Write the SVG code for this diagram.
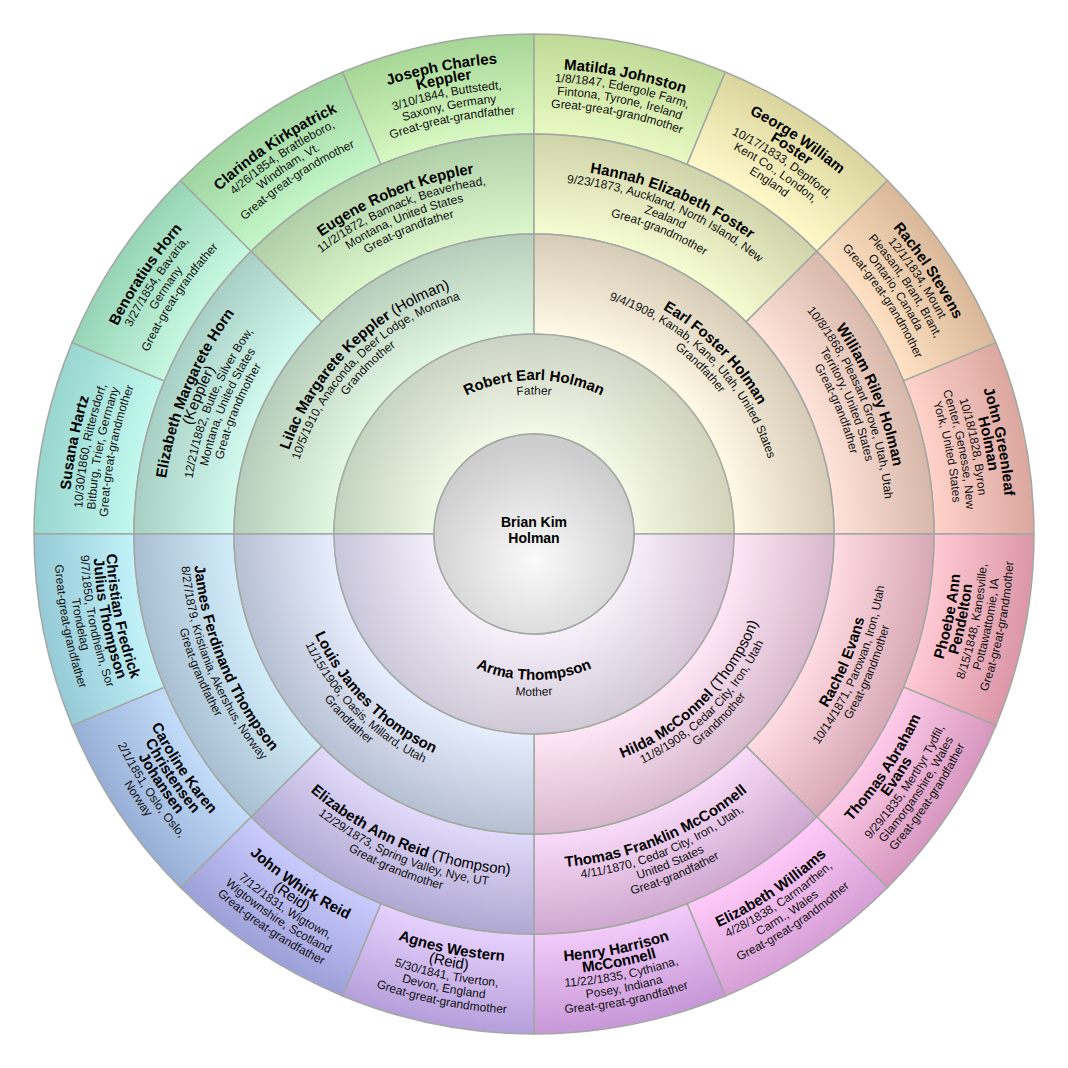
<svg xmlns="http://www.w3.org/2000/svg" width="1068" height="1068" viewBox="0 0 1068 1068">
<style>
text { font-family: "Liberation Sans", Arial, Helvetica, sans-serif; text-anchor: middle; fill: #000; }
.n { font-size: 15px; font-weight: bold; }
.m { font-size: 15px; font-weight: normal; }
.r { font-weight: normal; }
.d { font-size: 12px; fill: #111; }
.c { font-size: 14px; font-weight: bold; }
.seg { stroke: #a3a8a3; stroke-width: 1.5; }
</style>
<defs>
<radialGradient id="gCenter" gradientUnits="userSpaceOnUse" cx="534" cy="560" r="115"><stop offset="0" stop-color="#fafafa"/><stop offset="1" stop-color="#cdcdcd"/></radialGradient>
<radialGradient id="gFather" gradientUnits="userSpaceOnUse" cx="534" cy="534" r="200"><stop offset="0.5" stop-color="#f3f9e6"/><stop offset="1" stop-color="#c9d1c2"/></radialGradient>
<radialGradient id="gMother" gradientUnits="userSpaceOnUse" cx="534" cy="534" r="200"><stop offset="0.5" stop-color="#f7f0fb"/><stop offset="1" stop-color="#cfc7d5"/></radialGradient>
<linearGradient id="hFather" gradientUnits="userSpaceOnUse" x1="334" y1="0" x2="734" y2="0"><stop offset="0" stop-color="#a8e0b0" stop-opacity="0.25"/><stop offset="0.5" stop-color="#ffffff" stop-opacity="0"/><stop offset="1" stop-color="#f0dca0" stop-opacity="0.25"/></linearGradient>
<linearGradient id="hMother" gradientUnits="userSpaceOnUse" x1="334" y1="0" x2="734" y2="0"><stop offset="0" stop-color="#b0c0f0" stop-opacity="0.22"/><stop offset="0.5" stop-color="#ffffff" stop-opacity="0"/><stop offset="1" stop-color="#f0b0d8" stop-opacity="0.22"/></linearGradient>
<radialGradient id="gLilac" gradientUnits="userSpaceOnUse" cx="534" cy="534" r="300"><stop offset="0.667" stop-color="#e2f7e2"/><stop offset="1" stop-color="#b6cdbb"/></radialGradient>
<radialGradient id="gEarl" gradientUnits="userSpaceOnUse" cx="534" cy="534" r="300"><stop offset="0.667" stop-color="#fff9e6"/><stop offset="1" stop-color="#d6cbb6"/></radialGradient>
<radialGradient id="gHilda" gradientUnits="userSpaceOnUse" cx="534" cy="534" r="300"><stop offset="0.667" stop-color="#ffe6f7"/><stop offset="1" stop-color="#d7b7cb"/></radialGradient>
<radialGradient id="gLouis" gradientUnits="userSpaceOnUse" cx="534" cy="534" r="300"><stop offset="0.667" stop-color="#e6edfd"/><stop offset="1" stop-color="#b7bfd3"/></radialGradient>
<radialGradient id="gEMH" gradientUnits="userSpaceOnUse" cx="534" cy="534" r="400"><stop offset="0.75" stop-color="#d2f9ee"/><stop offset="1" stop-color="#a7cfc3"/></radialGradient>
<radialGradient id="gEugene" gradientUnits="userSpaceOnUse" cx="534" cy="534" r="400"><stop offset="0.75" stop-color="#dbf6cb"/><stop offset="1" stop-color="#afcfa8"/></radialGradient>
<radialGradient id="gHannah" gradientUnits="userSpaceOnUse" cx="534" cy="534" r="400"><stop offset="0.75" stop-color="#f6fcd2"/><stop offset="1" stop-color="#cfd3a9"/></radialGradient>
<radialGradient id="gWilliam" gradientUnits="userSpaceOnUse" cx="534" cy="534" r="400"><stop offset="0.75" stop-color="#ffe2d9"/><stop offset="1" stop-color="#d7b8aa"/></radialGradient>
<radialGradient id="gRachelE" gradientUnits="userSpaceOnUse" cx="534" cy="534" r="400"><stop offset="0.75" stop-color="#ffdbe3"/><stop offset="1" stop-color="#d7a9b6"/></radialGradient>
<radialGradient id="gThomasF" gradientUnits="userSpaceOnUse" cx="534" cy="534" r="400"><stop offset="0.75" stop-color="#f9dbf9"/><stop offset="1" stop-color="#cfa8d0"/></radialGradient>
<radialGradient id="gEAR" gradientUnits="userSpaceOnUse" cx="534" cy="534" r="400"><stop offset="0.75" stop-color="#e2dafa"/><stop offset="1" stop-color="#afa8d2"/></radialGradient>
<radialGradient id="gJames" gradientUnits="userSpaceOnUse" cx="534" cy="534" r="400"><stop offset="0.75" stop-color="#d3ecfa"/><stop offset="1" stop-color="#a7bfd1"/></radialGradient>
<radialGradient id="g1" gradientUnits="userSpaceOnUse" cx="534" cy="534" r="500"><stop offset="0.8" stop-color="#c2f8ee"/><stop offset="1" stop-color="#98d6cf"/></radialGradient>
<radialGradient id="g2" gradientUnits="userSpaceOnUse" cx="534" cy="534" r="500"><stop offset="0.8" stop-color="#c6f8e0"/><stop offset="1" stop-color="#96d4b5"/></radialGradient>
<radialGradient id="g3" gradientUnits="userSpaceOnUse" cx="534" cy="534" r="500"><stop offset="0.8" stop-color="#c4f6c8"/><stop offset="1" stop-color="#9ed49e"/></radialGradient>
<radialGradient id="g4" gradientUnits="userSpaceOnUse" cx="534" cy="534" r="500"><stop offset="0.8" stop-color="#d8f8c2"/><stop offset="1" stop-color="#a6d696"/></radialGradient>
<radialGradient id="g5" gradientUnits="userSpaceOnUse" cx="534" cy="534" r="500"><stop offset="0.8" stop-color="#e8f9c2"/><stop offset="1" stop-color="#bfd996"/></radialGradient>
<radialGradient id="g6" gradientUnits="userSpaceOnUse" cx="534" cy="534" r="500"><stop offset="0.8" stop-color="#fff9ca"/><stop offset="1" stop-color="#dad59e"/></radialGradient>
<radialGradient id="g7" gradientUnits="userSpaceOnUse" cx="534" cy="534" r="500"><stop offset="0.8" stop-color="#ffe2c4"/><stop offset="1" stop-color="#d8b898"/></radialGradient>
<radialGradient id="g8" gradientUnits="userSpaceOnUse" cx="534" cy="534" r="500"><stop offset="0.8" stop-color="#ffd2ca"/><stop offset="1" stop-color="#dba79f"/></radialGradient>
<radialGradient id="g9" gradientUnits="userSpaceOnUse" cx="534" cy="534" r="500"><stop offset="0.8" stop-color="#ffcad3"/><stop offset="1" stop-color="#db97a8"/></radialGradient>
<radialGradient id="g10" gradientUnits="userSpaceOnUse" cx="534" cy="534" r="500"><stop offset="0.8" stop-color="#ffcbe9"/><stop offset="1" stop-color="#d797bf"/></radialGradient>
<radialGradient id="g11" gradientUnits="userSpaceOnUse" cx="534" cy="534" r="500"><stop offset="0.8" stop-color="#ffcaf9"/><stop offset="1" stop-color="#d69fd6"/></radialGradient>
<radialGradient id="g12" gradientUnits="userSpaceOnUse" cx="534" cy="534" r="500"><stop offset="0.8" stop-color="#f2cbfa"/><stop offset="1" stop-color="#c797d7"/></radialGradient>
<radialGradient id="g13" gradientUnits="userSpaceOnUse" cx="534" cy="534" r="500"><stop offset="0.8" stop-color="#e6d1fd"/><stop offset="1" stop-color="#b59fdb"/></radialGradient>
<radialGradient id="g14" gradientUnits="userSpaceOnUse" cx="534" cy="534" r="500"><stop offset="0.8" stop-color="#cacbfd"/><stop offset="1" stop-color="#9d9fd8"/></radialGradient>
<radialGradient id="g15" gradientUnits="userSpaceOnUse" cx="534" cy="534" r="500"><stop offset="0.8" stop-color="#c3dcf9"/><stop offset="1" stop-color="#97afd6"/></radialGradient>
<radialGradient id="g16" gradientUnits="userSpaceOnUse" cx="534" cy="534" r="500"><stop offset="0.8" stop-color="#c2f1f9"/><stop offset="1" stop-color="#95cad6"/></radialGradient>

<path id="t154" d="M 380 534 A 154 154 0 0 1 688 534"/>
<path id="t139_5" d="M 394.5 534 A 139.5 139.5 0 0 1 673.5 534"/>
<path id="b146" d="M 388 534 A 146 146 0 0 0 680 534"/>
<path id="b162" d="M 372 534 A 162 162 0 0 0 696 534"/>
<path id="t259" d="M 275 534 A 259 259 0 0 1 793 534"/>
<path id="t246" d="M 288 534 A 246 246 0 0 1 780 534"/>
<path id="t233" d="M 301 534 A 233 233 0 0 1 767 534"/>
<path id="b241" d="M 293 534 A 241 241 0 0 0 775 534"/>
<path id="b254" d="M 280 534 A 254 254 0 0 0 788 534"/>
<path id="b267" d="M 267 534 A 267 267 0 0 0 801 534"/>
<path id="t372" d="M 162 534 A 372 372 0 0 1 906 534"/>
<path id="t359" d="M 175 534 A 359 359 0 0 1 893 534"/>
<path id="t346" d="M 188 534 A 346 346 0 0 1 880 534"/>
<path id="t333" d="M 201 534 A 333 333 0 0 1 867 534"/>
<path id="t320" d="M 214 534 A 320 320 0 0 1 854 534"/>
<path id="t365_5" d="M 168.5 534 A 365.5 365.5 0 0 1 899.5 534"/>
<path id="t352_5" d="M 181.5 534 A 352.5 352.5 0 0 1 886.5 534"/>
<path id="t339_5" d="M 194.5 534 A 339.5 339.5 0 0 1 873.5 534"/>
<path id="t326_5" d="M 207.5 534 A 326.5 326.5 0 0 1 860.5 534"/>
<path id="b341" d="M 193 534 A 341 341 0 0 0 875 534"/>
<path id="b354" d="M 180 534 A 354 354 0 0 0 888 534"/>
<path id="b367" d="M 167 534 A 367 367 0 0 0 901 534"/>
<path id="b334_5" d="M 199.5 534 A 334.5 334.5 0 0 0 868.5 534"/>
<path id="b347_5" d="M 186.5 534 A 347.5 347.5 0 0 0 881.5 534"/>
<path id="b360_5" d="M 173.5 534 A 360.5 360.5 0 0 0 894.5 534"/>
<path id="b373_5" d="M 160.5 534 A 373.5 373.5 0 0 0 907.5 534"/>
<path id="t465_5" d="M 68.5 534 A 465.5 465.5 0 0 1 999.5 534"/>
<path id="t452_5" d="M 81.5 534 A 452.5 452.5 0 0 1 986.5 534"/>
<path id="t439_5" d="M 94.5 534 A 439.5 439.5 0 0 1 973.5 534"/>
<path id="t426_5" d="M 107.5 534 A 426.5 426.5 0 0 1 960.5 534"/>
<path id="t472" d="M 62 534 A 472 472 0 0 1 1006 534"/>
<path id="t459" d="M 75 534 A 459 459 0 0 1 993 534"/>
<path id="t446" d="M 88 534 A 446 446 0 0 1 980 534"/>
<path id="t433" d="M 101 534 A 433 433 0 0 1 967 534"/>
<path id="t420" d="M 114 534 A 420 420 0 0 1 954 534"/>
<path id="b434_5" d="M 99.5 534 A 434.5 434.5 0 0 0 968.5 534"/>
<path id="b447_5" d="M 86.5 534 A 447.5 447.5 0 0 0 981.5 534"/>
<path id="b460_5" d="M 73.5 534 A 460.5 460.5 0 0 0 994.5 534"/>
<path id="b473_5" d="M 60.5 534 A 473.5 473.5 0 0 0 1007.5 534"/>
<path id="b428" d="M 106 534 A 428 428 0 0 0 962 534"/>
<path id="b441" d="M 93 534 A 441 441 0 0 0 975 534"/>
<path id="b454" d="M 80 534 A 454 454 0 0 0 988 534"/>
<path id="b467" d="M 67 534 A 467 467 0 0 0 1001 534"/>
<path id="b480" d="M 54 534 A 480 480 0 0 0 1014 534"/>
</defs>

<rect width="1068" height="1068" fill="#ffffff"/>

<g id="nodes">
<!-- Ring 4 -->
<g id="n-susana-hartz">
<path class="seg" fill="url(#g1)" d="M 34 534 A 500 500 0 0 1 72.06 342.66 L 164.45 380.93 A 400 400 0 0 0 134 534 Z"/>
<g transform="rotate(-78.75 534 534)">
<text class="n"><textPath href="#t465_5" startOffset="50%">Susana Hartz</textPath></text>
<text class="d"><textPath href="#t452_5" startOffset="50%">10/30/1860, Rittersdorf,</textPath></text>
<text class="d"><textPath href="#t439_5" startOffset="50%">Bitburg, Trier, Germany</textPath></text>
<text class="d"><textPath href="#t426_5" startOffset="50%">Great-great-grandmother</textPath></text>
</g></g>
<g id="n-benoratius-horn">
<path class="seg" fill="url(#g2)" d="M 72.06 342.66 A 500 500 0 0 1 180.45 180.45 L 251.16 251.16 A 400 400 0 0 0 164.45 380.93 Z"/>
<g transform="rotate(-56.25 534 534)">
<text class="n"><textPath href="#t465_5" startOffset="50%">Benoratius Horn</textPath></text>
<text class="d"><textPath href="#t452_5" startOffset="50%">3/27/1854, Bavaria,</textPath></text>
<text class="d"><textPath href="#t439_5" startOffset="50%">Germany</textPath></text>
<text class="d"><textPath href="#t426_5" startOffset="50%">Great-great-grandfather</textPath></text>
</g></g>
<g id="n-clarinda-kirkpatrick">
<path class="seg" fill="url(#g3)" d="M 180.45 180.45 A 500 500 0 0 1 342.66 72.06 L 380.93 164.45 A 400 400 0 0 0 251.16 251.16 Z"/>
<g transform="rotate(-33.75 534 534)">
<text class="n"><textPath href="#t465_5" startOffset="50%">Clarinda Kirkpatrick</textPath></text>
<text class="d"><textPath href="#t452_5" startOffset="50%">4/26/1854, Brattleboro,</textPath></text>
<text class="d"><textPath href="#t439_5" startOffset="50%">Windham, Vt.</textPath></text>
<text class="d"><textPath href="#t426_5" startOffset="50%">Great-great-grandmother</textPath></text>
</g></g>
<g id="n-joseph-charles-keppler">
<path class="seg" fill="url(#g4)" d="M 342.66 72.06 A 500 500 0 0 1 534 34 L 534 134 A 400 400 0 0 0 380.93 164.45 Z"/>
<g transform="rotate(-11.25 534 534)">
<text class="n"><textPath href="#t472" startOffset="50%">Joseph Charles</textPath></text>
<text class="n"><textPath href="#t459" startOffset="50%">Keppler</textPath></text>
<text class="d"><textPath href="#t446" startOffset="50%">3/10/1844, Buttstedt,</textPath></text>
<text class="d"><textPath href="#t433" startOffset="50%">Saxony, Germany</textPath></text>
<text class="d"><textPath href="#t420" startOffset="50%">Great-great-grandfather</textPath></text>
</g></g>
<g id="n-matilda-johnston">
<path class="seg" fill="url(#g5)" d="M 534 34 A 500 500 0 0 1 725.34 72.06 L 687.07 164.45 A 400 400 0 0 0 534 134 Z"/>
<g transform="rotate(11.25 534 534)">
<text class="n"><textPath href="#t465_5" startOffset="50%">Matilda Johnston</textPath></text>
<text class="d"><textPath href="#t452_5" startOffset="50%">1/8/1847, Edergole Farm,</textPath></text>
<text class="d"><textPath href="#t439_5" startOffset="50%">Fintona, Tyrone, Ireland</textPath></text>
<text class="d"><textPath href="#t426_5" startOffset="50%">Great-great-grandmother</textPath></text>
</g></g>
<g id="n-george-william-foster">
<path class="seg" fill="url(#g6)" d="M 725.34 72.06 A 500 500 0 0 1 887.55 180.45 L 816.84 251.16 A 400 400 0 0 0 687.07 164.45 Z"/>
<g transform="rotate(33.75 534 534)">
<text class="n"><textPath href="#t472" startOffset="50%">George William</textPath></text>
<text class="n"><textPath href="#t459" startOffset="50%">Foster</textPath></text>
<text class="d"><textPath href="#t446" startOffset="50%">10/17/1833, Deptford,</textPath></text>
<text class="d"><textPath href="#t433" startOffset="50%">Kent Co., London,</textPath></text>
<text class="d"><textPath href="#t420" startOffset="50%">England</textPath></text>
</g></g>
<g id="n-rachel-stevens">
<path class="seg" fill="url(#g7)" d="M 887.55 180.45 A 500 500 0 0 1 995.94 342.66 L 903.55 380.93 A 400 400 0 0 0 816.84 251.16 Z"/>
<g transform="rotate(56.25 534 534)">
<text class="n"><textPath href="#t472" startOffset="50%">Rachel Stevens</textPath></text>
<text class="d"><textPath href="#t459" startOffset="50%">12/1/1834, Mount</textPath></text>
<text class="d"><textPath href="#t446" startOffset="50%">Pleasant, Brant, Brant,</textPath></text>
<text class="d"><textPath href="#t433" startOffset="50%">Ontario, Canada</textPath></text>
<text class="d"><textPath href="#t420" startOffset="50%">Great-great-grandmother</textPath></text>
</g></g>
<g id="n-john-greenleaf-holman">
<path class="seg" fill="url(#g8)" d="M 995.94 342.66 A 500 500 0 0 1 1034 534 L 934 534 A 400 400 0 0 0 903.55 380.93 Z"/>
<g transform="rotate(78.75 534 534)">
<text class="n"><textPath href="#t472" startOffset="50%">John Greenleaf</textPath></text>
<text class="n"><textPath href="#t459" startOffset="50%">Holman</textPath></text>
<text class="d"><textPath href="#t446" startOffset="50%">10/18/1828, Byron</textPath></text>
<text class="d"><textPath href="#t433" startOffset="50%">Center, Genesse, New</textPath></text>
<text class="d"><textPath href="#t420" startOffset="50%">York, United States</textPath></text>
</g></g>
<g id="n-phoebe-ann-pendelton">
<path class="seg" fill="url(#g9)" d="M 1034 534 A 500 500 0 0 1 995.94 725.34 L 903.55 687.07 A 400 400 0 0 0 934 534 Z"/>
<g transform="rotate(-78.75 534 534)">
<text class="n"><textPath href="#b428" startOffset="50%">Phoebe Ann</textPath></text>
<text class="n"><textPath href="#b441" startOffset="50%">Pendelton</textPath></text>
<text class="d"><textPath href="#b454" startOffset="50%">8/15/1848, Kanesville,</textPath></text>
<text class="d"><textPath href="#b467" startOffset="50%">Pottawattomie, IA</textPath></text>
<text class="d"><textPath href="#b480" startOffset="50%">Great-great-grandmother</textPath></text>
</g></g>
<g id="n-thomas-abraham-evans">
<path class="seg" fill="url(#g10)" d="M 995.94 725.34 A 500 500 0 0 1 887.55 887.55 L 816.84 816.84 A 400 400 0 0 0 903.55 687.07 Z"/>
<g transform="rotate(-56.25 534 534)">
<text class="n"><textPath href="#b428" startOffset="50%">Thomas Abraham</textPath></text>
<text class="n"><textPath href="#b441" startOffset="50%">Evans</textPath></text>
<text class="d"><textPath href="#b454" startOffset="50%">9/29/1835, Merthyr Tydfil,</textPath></text>
<text class="d"><textPath href="#b467" startOffset="50%">Glamorganshire, Wales</textPath></text>
<text class="d"><textPath href="#b480" startOffset="50%">Great-great-grandfather</textPath></text>
</g></g>
<g id="n-elizabeth-williams">
<path class="seg" fill="url(#g11)" d="M 887.55 887.55 A 500 500 0 0 1 725.34 995.94 L 687.07 903.55 A 400 400 0 0 0 816.84 816.84 Z"/>
<g transform="rotate(-33.75 534 534)">
<text class="n"><textPath href="#b434_5" startOffset="50%">Elizabeth Williams</textPath></text>
<text class="d"><textPath href="#b447_5" startOffset="50%">4/28/1838, Carmarthen,</textPath></text>
<text class="d"><textPath href="#b460_5" startOffset="50%">Carm., Wales</textPath></text>
<text class="d"><textPath href="#b473_5" startOffset="50%">Great-great-grandmother</textPath></text>
</g></g>
<g id="n-henry-harrison-mcconnell">
<path class="seg" fill="url(#g12)" d="M 725.34 995.94 A 500 500 0 0 1 534 1034 L 534 934 A 400 400 0 0 0 687.07 903.55 Z"/>
<g transform="rotate(-11.25 534 534)">
<text class="n"><textPath href="#b428" startOffset="50%">Henry Harrison</textPath></text>
<text class="n"><textPath href="#b441" startOffset="50%">McConnell</textPath></text>
<text class="d"><textPath href="#b454" startOffset="50%">11/22/1835, Cythiana,</textPath></text>
<text class="d"><textPath href="#b467" startOffset="50%">Posey, Indiana</textPath></text>
<text class="d"><textPath href="#b480" startOffset="50%">Great-great-grandfather</textPath></text>
</g></g>
<g id="n-agnes-western">
<path class="seg" fill="url(#g13)" d="M 534 1034 A 500 500 0 0 1 342.66 995.94 L 380.93 903.55 A 400 400 0 0 0 534 934 Z"/>
<g transform="rotate(11.25 534 534)">
<text class="n"><textPath href="#b428" startOffset="50%">Agnes Western</textPath></text>
<text class="m"><textPath href="#b441" startOffset="50%">(Reid)</textPath></text>
<text class="d"><textPath href="#b454" startOffset="50%">5/30/1841, Tiverton,</textPath></text>
<text class="d"><textPath href="#b467" startOffset="50%">Devon, England</textPath></text>
<text class="d"><textPath href="#b480" startOffset="50%">Great-great-grandmother</textPath></text>
</g></g>
<g id="n-john-whirk-reid">
<path class="seg" fill="url(#g14)" d="M 342.66 995.94 A 500 500 0 0 1 180.45 887.55 L 251.16 816.84 A 400 400 0 0 0 380.93 903.55 Z"/>
<g transform="rotate(33.75 534 534)">
<text class="n"><textPath href="#b428" startOffset="50%">John Whirk Reid</textPath></text>
<text class="m"><textPath href="#b441" startOffset="50%">(Reid)</textPath></text>
<text class="d"><textPath href="#b454" startOffset="50%">7/12/1831, Wigtown,</textPath></text>
<text class="d"><textPath href="#b467" startOffset="50%">Wigtownshire, Scotland</textPath></text>
<text class="d"><textPath href="#b480" startOffset="50%">Great-great-grandfather</textPath></text>
</g></g>
<g id="n-caroline-karen-christensen-johansen">
<path class="seg" fill="url(#g15)" d="M 180.45 887.55 A 500 500 0 0 1 72.06 725.34 L 164.45 687.07 A 400 400 0 0 0 251.16 816.84 Z"/>
<g transform="rotate(56.25 534 534)">
<text class="n"><textPath href="#b428" startOffset="50%">Caroline Karen</textPath></text>
<text class="n"><textPath href="#b441" startOffset="50%">Christensen</textPath></text>
<text class="n"><textPath href="#b454" startOffset="50%">Johansen</textPath></text>
<text class="d"><textPath href="#b467" startOffset="50%">2/1/1851, Oslo, Oslo,</textPath></text>
<text class="d"><textPath href="#b480" startOffset="50%">Norway</textPath></text>
</g></g>
<g id="n-christian-fredrick-julius-thompson">
<path class="seg" fill="url(#g16)" d="M 72.06 725.34 A 500 500 0 0 1 34 534 L 134 534 A 400 400 0 0 0 164.45 687.07 Z"/>
<g transform="rotate(78.75 534 534)">
<text class="n"><textPath href="#b428" startOffset="50%">Christian Fredrick</textPath></text>
<text class="n"><textPath href="#b441" startOffset="50%">Julius Thompson</textPath></text>
<text class="d"><textPath href="#b454" startOffset="50%">9/7/1850, Trondheim, Sor</textPath></text>
<text class="d"><textPath href="#b467" startOffset="50%">Trondelag</textPath></text>
<text class="d"><textPath href="#b480" startOffset="50%">Great-great-grandfather</textPath></text>
</g></g>

<!-- Ring 3 -->
<g id="n-elizabeth-margarete-horn">
<path class="seg" fill="url(#gEMH)" d="M 134 534 A 400 400 0 0 1 251.16 251.16 L 321.87 321.87 A 300 300 0 0 0 234 534 Z"/>
<g transform="rotate(-67.5 534 534)">
<text class="n"><textPath href="#t372" startOffset="50%">Elizabeth Margarete Horn</textPath></text>
<text class="m"><textPath href="#t359" startOffset="50%">(Keppler)</textPath></text>
<text class="d"><textPath href="#t346" startOffset="50%">12/21/1882, Butte, Silver Bow,</textPath></text>
<text class="d"><textPath href="#t333" startOffset="50%">Montana, United States</textPath></text>
<text class="d"><textPath href="#t320" startOffset="50%">Great-grandmother</textPath></text>
</g></g>
<g id="n-eugene-robert-keppler">
<path class="seg" fill="url(#gEugene)" d="M 251.16 251.16 A 400 400 0 0 1 534 134 L 534 234 A 300 300 0 0 0 321.87 321.87 Z"/>
<g transform="rotate(-22.5 534 534)">
<text class="n"><textPath href="#t365_5" startOffset="50%">Eugene Robert Keppler</textPath></text>
<text class="d"><textPath href="#t352_5" startOffset="50%">11/2/1872, Bannack, Beaverhead,</textPath></text>
<text class="d"><textPath href="#t339_5" startOffset="50%">Montana, United States</textPath></text>
<text class="d"><textPath href="#t326_5" startOffset="50%">Great-grandfather</textPath></text>
</g></g>
<g id="n-hannah-elizabeth-foster">
<path class="seg" fill="url(#gHannah)" d="M 534 134 A 400 400 0 0 1 816.84 251.16 L 746.13 321.87 A 300 300 0 0 0 534 234 Z"/>
<g transform="rotate(22.5 534 534)">
<text class="n"><textPath href="#t365_5" startOffset="50%">Hannah Elizabeth Foster</textPath></text>
<text class="d"><textPath href="#t352_5" startOffset="50%">9/23/1873, Auckland, North Island, New</textPath></text>
<text class="d"><textPath href="#t339_5" startOffset="50%">Zealand</textPath></text>
<text class="d"><textPath href="#t326_5" startOffset="50%">Great-grandmother</textPath></text>
</g></g>
<g id="n-william-riley-holman">
<path class="seg" fill="url(#gWilliam)" d="M 816.84 251.16 A 400 400 0 0 1 934 534 L 834 534 A 300 300 0 0 0 746.13 321.87 Z"/>
<g transform="rotate(67.5 534 534)">
<text class="n"><textPath href="#t365_5" startOffset="50%">William Riley Holman</textPath></text>
<text class="d"><textPath href="#t352_5" startOffset="50%">10/8/1868, Pleasant Grove, Utah, Utah</textPath></text>
<text class="d"><textPath href="#t339_5" startOffset="50%">Territory, United States</textPath></text>
<text class="d"><textPath href="#t326_5" startOffset="50%">Great-grandfather</textPath></text>
</g></g>
<g id="n-rachel-evans">
<path class="seg" fill="url(#gRachelE)" d="M 934 534 A 400 400 0 0 1 816.84 816.84 L 746.13 746.13 A 300 300 0 0 0 834 534 Z"/>
<g transform="rotate(-67.5 534 534)">
<text class="n"><textPath href="#b341" startOffset="50%">Rachel Evans</textPath></text>
<text class="d"><textPath href="#b354" startOffset="50%">10/14/1871, Parowan, Iron, Utah</textPath></text>
<text class="d"><textPath href="#b367" startOffset="50%">Great-grandmother</textPath></text>
</g></g>
<g id="n-thomas-franklin-mcconnell">
<path class="seg" fill="url(#gThomasF)" d="M 816.84 816.84 A 400 400 0 0 1 534 934 L 534 834 A 300 300 0 0 0 746.13 746.13 Z"/>
<g transform="rotate(-22.5 534 534)">
<text class="n"><textPath href="#b334_5" startOffset="50%">Thomas Franklin McConnell</textPath></text>
<text class="d"><textPath href="#b347_5" startOffset="50%">4/11/1870, Cedar City, Iron, Utah,</textPath></text>
<text class="d"><textPath href="#b360_5" startOffset="50%">United States</textPath></text>
<text class="d"><textPath href="#b373_5" startOffset="50%">Great-grandfather</textPath></text>
</g></g>
<g id="n-elizabeth-ann-reid">
<path class="seg" fill="url(#gEAR)" d="M 534 934 A 400 400 0 0 1 251.16 816.84 L 321.87 746.13 A 300 300 0 0 0 534 834 Z"/>
<g transform="rotate(22.5 534 534)">
<text class="n"><textPath href="#b341" startOffset="50%">Elizabeth Ann Reid <tspan class="r">(Thompson)</tspan></textPath></text>
<text class="d"><textPath href="#b354" startOffset="50%">12/29/1873, Spring Valley, Nye, UT</textPath></text>
<text class="d"><textPath href="#b367" startOffset="50%">Great-grandmother</textPath></text>
</g></g>
<g id="n-james-ferdinand-thompson">
<path class="seg" fill="url(#gJames)" d="M 251.16 816.84 A 400 400 0 0 1 134 534 L 234 534 A 300 300 0 0 0 321.87 746.13 Z"/>
<g transform="rotate(67.5 534 534)">
<text class="n"><textPath href="#b341" startOffset="50%">James Ferdinand Thompson</textPath></text>
<text class="d"><textPath href="#b354" startOffset="50%">8/27/1879, Kristiania, Akershus, Norway</textPath></text>
<text class="d"><textPath href="#b367" startOffset="50%">Great-grandfather</textPath></text>
</g></g>

<!-- Ring 2 -->
<g id="n-lilac-margarete-keppler">
<path class="seg" fill="url(#gLilac)" d="M 234 534 A 300 300 0 0 1 534 234 L 534 334 A 200 200 0 0 0 334 534 Z"/>
<g transform="rotate(-45 534 534)">
<text class="n"><textPath href="#t259" startOffset="50%">Lilac Margarete Keppler <tspan class="r">(Holman)</tspan></textPath></text>
<text class="d"><textPath href="#t246" startOffset="50%">10/5/1910, Anaconda, Deer Lodge, Montana</textPath></text>
<text class="d"><textPath href="#t233" startOffset="50%">Grandmother</textPath></text>
</g></g>
<g id="n-earl-foster-holman">
<path class="seg" fill="url(#gEarl)" d="M 534 234 A 300 300 0 0 1 834 534 L 734 534 A 200 200 0 0 0 534 334 Z"/>
<g transform="rotate(45 534 534)">
<text class="n"><textPath href="#t259" startOffset="50%">Earl Foster Holman</textPath></text>
<text class="d"><textPath href="#t246" startOffset="50%">9/4/1908, Kanab, Kane, Utah, United States</textPath></text>
<text class="d"><textPath href="#t233" startOffset="50%">Grandfather</textPath></text>
</g></g>
<g id="n-hilda-mcconnel">
<path class="seg" fill="url(#gHilda)" d="M 834 534 A 300 300 0 0 1 534 834 L 534 734 A 200 200 0 0 0 734 534 Z"/>
<g transform="rotate(-45 534 534)">
<text class="n"><textPath href="#b241" startOffset="50%">Hilda McConnel <tspan class="r">(Thompson)</tspan></textPath></text>
<text class="d"><textPath href="#b254" startOffset="50%">11/8/1908, Cedar City, Iron, Utah</textPath></text>
<text class="d"><textPath href="#b267" startOffset="50%">Grandmother</textPath></text>
</g></g>
<g id="n-louis-james-thompson">
<path class="seg" fill="url(#gLouis)" d="M 534 834 A 300 300 0 0 1 234 534 L 334 534 A 200 200 0 0 0 534 734 Z"/>
<g transform="rotate(45 534 534)">
<text class="n"><textPath href="#b241" startOffset="50%">Louis James Thompson</textPath></text>
<text class="d"><textPath href="#b254" startOffset="50%">11/15/1906, Oasis, Millard, Utah</textPath></text>
<text class="d"><textPath href="#b267" startOffset="50%">Grandfather</textPath></text>
</g></g>

<!-- Ring 1 -->
<g id="n-robert-earl-holman">
<path class="seg" fill="url(#gFather)" d="M 334 534 A 200 200 0 0 1 734 534 L 634 534 A 100 100 0 0 0 434 534 Z"/>
<path fill="url(#hFather)" d="M 334 534 A 200 200 0 0 1 734 534 L 634 534 A 100 100 0 0 0 434 534 Z"/>
<text class="n"><textPath href="#t154" startOffset="50%">Robert Earl Holman</textPath></text>
<text class="d"><textPath href="#t139_5" startOffset="50%">Father</textPath></text>
</g>
<g id="n-arma-thompson">
<path class="seg" fill="url(#gMother)" d="M 734 534 A 200 200 0 0 1 334 534 L 434 534 A 100 100 0 0 0 634 534 Z"/>
<path fill="url(#hMother)" d="M 734 534 A 200 200 0 0 1 334 534 L 434 534 A 100 100 0 0 0 634 534 Z"/>
<text class="n"><textPath href="#b146" startOffset="50%">Arma Thompson</textPath></text>
<text class="d"><textPath href="#b162" startOffset="50%">Mother</textPath></text>
</g>

<!-- Center -->
<g id="n-brian-kim-holman">
<circle class="seg" cx="534" cy="534" r="100" fill="url(#gCenter)"/>
<text class="c" x="534" y="527">Brian Kim</text>
<text class="c" x="534" y="543">Holman</text>
</g>
</g>
</svg>
